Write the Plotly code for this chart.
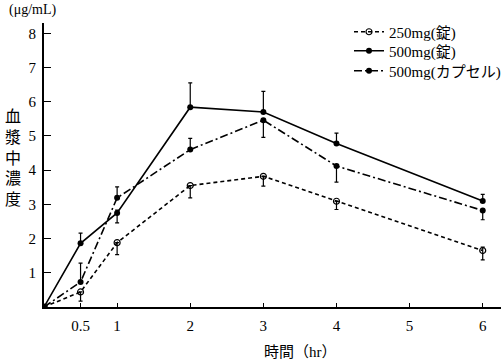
import plotly.graph_objects as go

times = [0, 0.5, 1, 2, 3, 4, 6]

names = ["250mg(錠)", "500mg(錠)", "500mg(カプセル)"]

conc_250_tab = [0, 0.44, 1.88, 3.55, 3.82, 3.09, 1.65]
err_up_250_tab = [0, 0, 0, 0, 0, 0, 0.1]
err_dn_250_tab = [0, 0.27, 0.35, 0.36, 0.29, 0.24, 0.27]

conc_500_tab = [0, 1.86, 2.75, 5.84, 5.70, 4.78, 3.10]
err_up_500_tab = [0, 0.30, 0.08, 0.71, 0.60, 0.30, 0.19]
err_dn_500_tab = [0, 0, 0.29, 0, 0, 0, 0]

conc_500_cap = [0, 0.73, 3.19, 4.60, 5.46, 4.12, 2.82]
err_up_cap = [0, 0.55, 0.32, 0.33, 0, 0, 0]
err_dn_cap = [0, 0, 0, 0, 0.50, 0.47, 0.27]

x_tickvals = [0.5, 1, 2, 3, 4, 5, 6]
x_ticktext = ["0.5", "1", "2", "3", "4", "5", "6"]
y_tickvals = [1, 2, 3, 4, 5, 6, 7, 8]

FONT = "Liberation Serif, 'Noto Sans CJK JP', serif"

W, H = 501, 362
L, R, T, B = 44, 0, 23, 55
pw, ph = W - L - R, H - T - B


def px_x(p):
    return (p - L) / pw


def px_y(p):
    return (H - B - p) / ph


fig = go.Figure()

series = [
    (names[0], conc_250_tab, err_up_250_tab, err_dn_250_tab, "4px,3px",
     dict(symbol="circle-open", size=6, color="black", line=dict(width=1.2, color="black")),
     "legend", 32),
    (names[1], conc_500_tab, err_up_500_tab, err_dn_500_tab, "solid",
     dict(symbol="circle", size=6, color="black"), "legend2", 51),
    (names[2], conc_500_cap, err_up_cap, err_dn_cap, "8px,3px,2px,3px",
     dict(symbol="circle", size=6, color="black"), "legend3", 71),
]

legend_defs = {}
for name, y, up, dn, dash, marker, lg, ly in series:
    fig.add_trace(go.Scatter(
        x=times, y=y, name=name, mode="lines+markers",
        line=dict(color="black", width=1.6, dash=dash),
        marker=marker, legend=lg,
        error_y=dict(type="data", symmetric=False, array=up, arrayminus=dn,
                     color="black", thickness=1.2, width=2),
    ))
    legend_defs[lg] = dict(x=px_x(349), y=px_y(ly), xanchor="left", yanchor="middle",
                           font=dict(size=15, family=FONT), bgcolor="rgba(0,0,0,0)",
                           itemwidth=30, borderwidth=0)

fig.update_layout(
    width=W, height=H,
    margin=dict(l=L, r=R, t=T, b=B, autoexpand=False),
    paper_bgcolor="white", plot_bgcolor="white",
    font=dict(family=FONT, color="black", size=15),
    showlegend=True,
    **legend_defs,
    xaxis=dict(range=[0, 6.25], tickvals=x_tickvals, ticktext=x_ticktext,
               ticks="inside", ticklen=4, tickwidth=1.2, tickcolor="black",
               showline=True, linewidth=2, linecolor="black",
               showgrid=False, zeroline=False,
               tickfont=dict(size=15, family=FONT), ticklabelstandoff=4),
    yaxis=dict(range=[0, 8.3], tickvals=y_tickvals,
               ticks="inside", ticklen=7, tickwidth=1.2, tickcolor="black",
               showline=True, linewidth=2, linecolor="black",
               showgrid=False, zeroline=False,
               tickfont=dict(size=15, family=FONT), ticklabelstandoff=3),
    annotations=[
        dict(text="(μg/mL)", x=px_x(7), y=px_y(10), xref="paper", yref="paper",
             xanchor="left", yanchor="middle", showarrow=False,
             font=dict(size=14, family=FONT)),
        dict(text="血<br>漿<br>中<br>濃<br>度", x=px_x(13), y=px_y(158),
             xref="paper", yref="paper", xanchor="center", yanchor="middle",
             showarrow=False, font=dict(size=16, family=FONT)),
        dict(text="時間（hr）", x=px_x(300), y=px_y(352),
             xref="paper", yref="paper", xanchor="center", yanchor="middle",
             showarrow=False, font=dict(size=15, family=FONT)),
    ],
)

fig.write_html("out.html", config={"displayModeBar": False},
               post_script="document.body.style.margin='0';")
